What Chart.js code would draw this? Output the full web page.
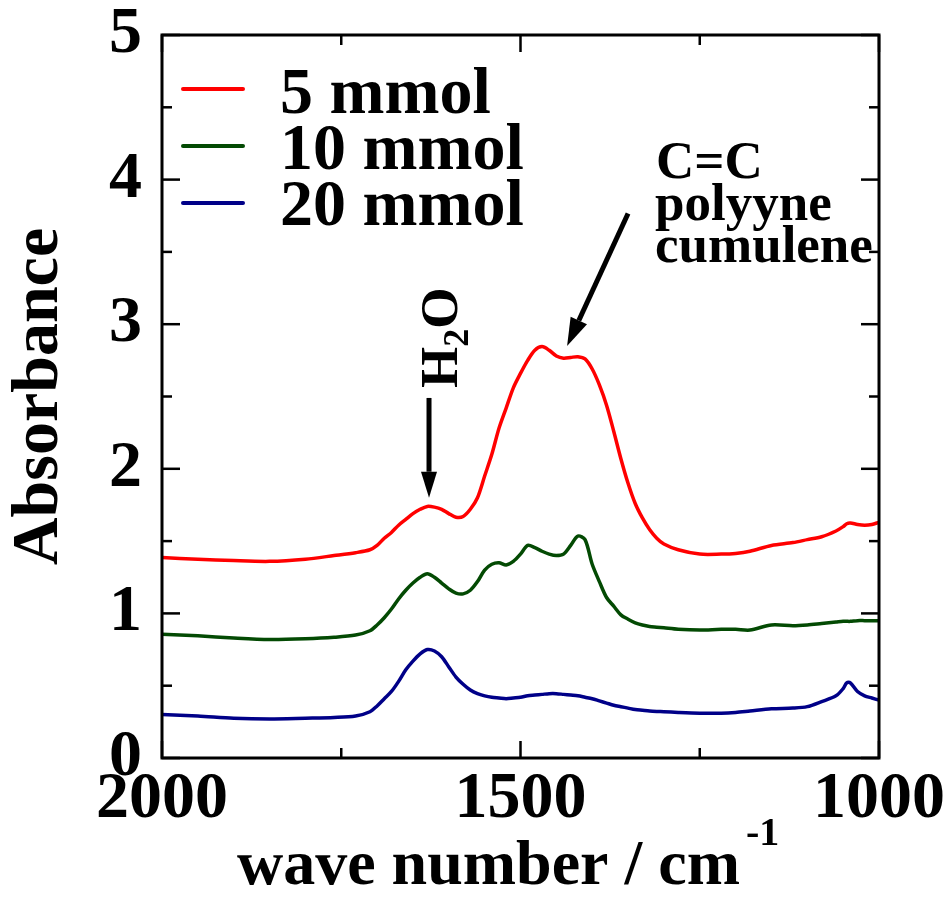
<!DOCTYPE html>
<html><head><meta charset="utf-8">
<script src="https://cdn.jsdelivr.net/npm/chart.js@4.4.0/dist/chart.umd.min.js"></script>
<style>html,body{margin:0;padding:0;background:#fff;} canvas{display:block;}</style>
</head><body>
<canvas id="c" width="949" height="906"></canvas>
<script>
// ---- data ----
const wavenumbers = [2000,1950,1900,1850,1800,1760,1730,1710,1700,1690,1680,1670,1660,1650,1640,1630,1620,1610,1600,1590,1580,1570,1560,1550,1540,1530,1520,1510,1500,1490,1480,1470,1460,1450,1440,1430,1420,1410,1400,1390,1380,1370,1360,1350,1340,1330,1320,1310,1300,1280,1250,1220,1200,1180,1150,1120,1100,1080,1060,1050,1045,1040,1030,1020,1010,1000];
const abs5mmol = [1.386,1.375,1.365,1.36,1.375,1.40,1.42,1.44,1.47,1.52,1.56,1.61,1.65,1.69,1.72,1.74,1.735,1.72,1.69,1.665,1.67,1.72,1.80,1.95,2.10,2.28,2.42,2.56,2.66,2.75,2.82,2.845,2.82,2.78,2.765,2.77,2.775,2.76,2.69,2.58,2.44,2.26,2.07,1.90,1.76,1.66,1.58,1.52,1.48,1.44,1.41,1.41,1.415,1.43,1.47,1.49,1.51,1.53,1.57,1.60,1.62,1.625,1.615,1.61,1.615,1.63];
const abs10mmol = [0.855,0.845,0.83,0.82,0.825,0.835,0.85,0.88,0.92,0.97,1.03,1.10,1.16,1.21,1.25,1.275,1.25,1.21,1.17,1.14,1.135,1.16,1.22,1.30,1.34,1.35,1.335,1.36,1.41,1.47,1.455,1.43,1.41,1.40,1.41,1.47,1.535,1.51,1.34,1.22,1.11,1.05,0.99,0.96,0.935,0.92,0.91,0.905,0.90,0.89,0.885,0.89,0.89,0.885,0.92,0.915,0.92,0.93,0.94,0.945,0.945,0.945,0.95,0.95,0.95,0.95];
const abs20mmol = [0.30,0.29,0.275,0.27,0.275,0.28,0.29,0.32,0.36,0.41,0.46,0.53,0.61,0.67,0.72,0.75,0.74,0.70,0.63,0.56,0.51,0.47,0.445,0.43,0.42,0.415,0.41,0.415,0.42,0.43,0.435,0.44,0.445,0.445,0.44,0.435,0.43,0.42,0.41,0.395,0.38,0.365,0.355,0.345,0.335,0.33,0.325,0.322,0.32,0.315,0.31,0.31,0.315,0.325,0.34,0.345,0.355,0.39,0.43,0.48,0.52,0.52,0.46,0.43,0.415,0.40];
const seriesLabels = ['5 mmol','10 mmol','20 mmol'];
const seriesColors = ['#ff0000','#034a03','#000088'];
const xAxisTitle = 'wave number / cm';
const xAxisTitleSup = '-1';
const yAxisTitle = 'Absorbance';

const SERIF = "'Liberation Serif','Times New Roman',serif";

function pts(vals){ return wavenumbers.map((w,i)=>({x:w, y:vals[i]})); }

function line(ctx,x1,y1,x2,y2){ ctx.beginPath(); ctx.moveTo(x1,y1); ctx.lineTo(x2,y2); ctx.stroke(); }
function arrow(ctx,x1,y1,x2,y2,hl,hw,lw){
  const ang=Math.atan2(y2-y1,x2-x1);
  const bx=x2-hl*Math.cos(ang), by=y2-hl*Math.sin(ang);
  ctx.lineWidth=lw; line(ctx,x1,y1,bx,by);
  ctx.beginPath();
  ctx.moveTo(x2,y2);
  ctx.lineTo(bx+hw*Math.sin(ang), by-hw*Math.cos(ang));
  ctx.lineTo(bx-hw*Math.sin(ang), by+hw*Math.cos(ang));
  ctx.closePath(); ctx.fill();
}

const framePlugin = {
  id:'frame',
  afterDatasetsDraw(chart){
    const {ctx, chartArea:a, scales:{x,y}} = chart;
    ctx.save();
    ctx.strokeStyle='#000'; ctx.fillStyle='#000';
    ctx.lineWidth=3;
    ctx.strokeRect(a.left, a.top, a.right-a.left, a.bottom-a.top);
    ctx.lineWidth=2.5;
    y.ticks.forEach(t=>{
      const py=y.getPixelForValue(t.value);
      const len=Number.isInteger(t.value)?18:10;
      line(ctx,a.left,py,a.left+len,py); line(ctx,a.right,py,a.right-len,py);
    });
    x.ticks.forEach(t=>{
      const px=x.getPixelForValue(t.value);
      const len=(t.value%500===0)?17:10;
      line(ctx,px,a.bottom,px,a.bottom-len); line(ctx,px,a.top,px,a.top+len);
    });
    // legend
    ctx.font="bold 66px "+SERIF; ctx.textBaseline='alphabetic'; ctx.textAlign='left';
    chart.data.datasets.forEach((ds,i)=>{
      const ly=89+57*i;
      ctx.strokeStyle=ds.borderColor; ctx.lineWidth=4; ctx.lineCap='round';
      line(ctx,183,ly,243,ly);
      ctx.fillStyle='#000';
      ctx.fillText(ds.label,280,113+56*i);
    });
    ctx.lineCap='butt'; ctx.strokeStyle='#000'; ctx.fillStyle='#000';
    // x axis superscript
    ctx.font="bold 64px "+SERIF;
    const full=ctx.measureText(xAxisTitle+'    ').width;
    const main=ctx.measureText(xAxisTitle).width;
    const cx=(x.left+x.right)/2;
    const endX=cx-full/2+main;
    ctx.font="bold 40px "+SERIF;
    ctx.fillText(xAxisTitleSup,endX+6,845);
    // annotations
    arrow(ctx,x.getPixelForValue(1627.6),y.getPixelForValue(2.49),x.getPixelForValue(1627.6),y.getPixelForValue(1.80),26,8,5);
    arrow(ctx,x.getPixelForValue(1350),y.getPixelForValue(3.766),x.getPixelForValue(1435),y.getPixelForValue(2.85),28,9,5);
    ctx.font="bold 53px "+SERIF;
    ctx.fillText('C=C',656,178);
    ctx.fillText('polyyne',655,220);
    ctx.fillText('cumulene',655,262);
    // H2O rotated
    ctx.save();
    ctx.translate(457,388); ctx.rotate(-Math.PI/2);
    ctx.font="bold 53px "+SERIF;
    ctx.fillText('H',0,0);
    const wH=ctx.measureText('H').width;
    ctx.font="bold 36px "+SERIF;
    ctx.fillText('2',wH,11);
    const w2=ctx.measureText('2').width;
    ctx.font="bold 53px "+SERIF;
    ctx.fillText('O',wH+w2,0);
    ctx.restore();
    ctx.restore();
  }
};

new Chart(document.getElementById('c'), {
  type:'line',
  data:{ datasets:[
    {label:seriesLabels[0], data:pts(abs5mmol), borderColor:seriesColors[0]},
    {label:seriesLabels[1], data:pts(abs10mmol), borderColor:seriesColors[1]},
    {label:seriesLabels[2], data:pts(abs20mmol), borderColor:seriesColors[2]}
  ]},
  options:{
    responsive:false, animation:false,
    layout:{padding:{left:0,right:70,top:35,bottom:0}},
    elements:{ line:{borderWidth:3.5, tension:0.3, fill:false}, point:{radius:0} },
    plugins:{ legend:{display:false}, tooltip:{enabled:false} },
    scales:{
      x:{ type:'linear', reverse:true, min:1000, max:2000,
        grid:{display:false, drawTicks:false}, border:{display:false},
        ticks:{ stepSize:250, autoSkip:false, maxRotation:0, padding:9, color:'#000',
          font:{family:SERIF, weight:'bold', size:66, lineHeight:1.0},
          callback:(v)=> (v%500===0 ? String(v) : '') },
        title:{display:true, text:xAxisTitle+'    ', color:'#000', padding:{top:0,bottom:0},
          font:{family:SERIF, weight:'bold', size:64, lineHeight:1.2}},
        afterFit:(s)=>{ s.height=148; s.paddingLeft=0; s.paddingRight=0; s.paddingTop=0; s.paddingBottom=0; }
      },
      y:{ min:0, max:5,
        grid:{display:false, drawTicks:false}, border:{display:false},
        ticks:{ stepSize:0.5, autoSkip:false, padding:20, color:'#000',
          font:{family:SERIF, weight:'bold', size:66, lineHeight:1.0},
          callback:(v)=> (Number.isInteger(v) ? String(v) : '') },
        title:{display:true, text:yAxisTitle, color:'#000', padding:{top:0,bottom:0},
          font:{family:SERIF, weight:'bold', size:66, lineHeight:1.2}},
        afterFit:(s)=>{ s.width=162; s.paddingLeft=0; s.paddingRight=0; s.paddingTop=0; s.paddingBottom=0; }
      }
    }
  },
  plugins:[framePlugin]
});
</script>
</body></html>
